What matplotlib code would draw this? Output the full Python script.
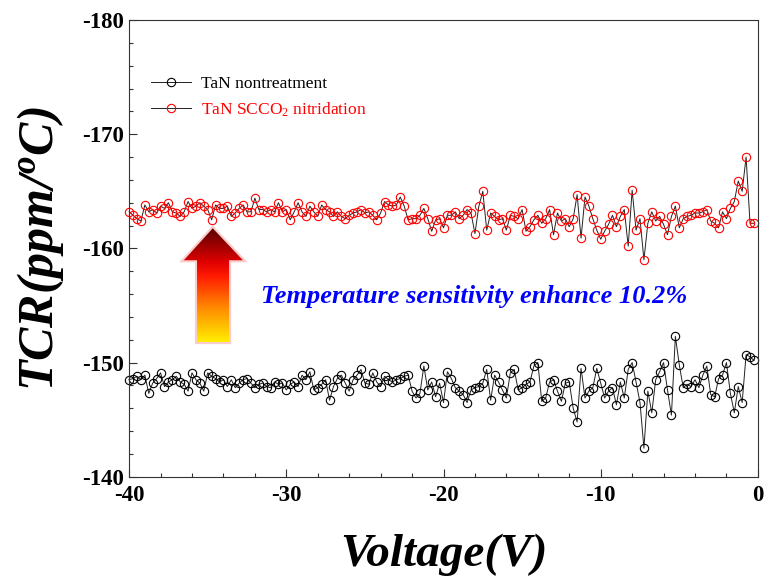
import numpy as np
import matplotlib
matplotlib.use("Agg")
import matplotlib.pyplot as plt
from matplotlib.colors import LinearSegmentedColormap
from matplotlib.patches import Polygon
from matplotlib.ticker import MultipleLocator

# -- fonts: Times-like serif everywhere
plt.rcParams['font.family'] = ['Liberation Serif', 'DejaVu Serif']
plt.rcParams['mathtext.fontset'] = 'custom'
plt.rcParams['mathtext.rm'] = 'Liberation Serif'
plt.rcParams['mathtext.it'] = 'Liberation Serif:italic:bold'
plt.rcParams['mathtext.bf'] = 'Liberation Serif:bold'
plt.rcParams['axes.unicode_minus'] = False

# -- voltage sweep, 0.25 V step from -40 V
voltage = np.linspace(-40, -0.25, 160)  # [V]

# -- TCR [ppm/C], untreated film
tcr_nontreat = [
    -148.5, -148.6, -148.8, -148.5, -148.9, -147.3, -148.2, -148.6, -149.1, -147.9,
    -148.3, -148.5, -148.8, -148.3, -148.1, -147.5, -149.1, -148.5, -148.2, -147.5,
    -149.1, -148.8, -148.6, -148.3, -148.5, -147.9, -148.5, -147.8, -148.2, -148.5,
    -148.6, -148.2, -147.8, -148.1, -148.2, -147.9, -147.8, -148.3, -148.1, -148.2,
    -147.6, -148.1, -148.3, -147.9, -148.9, -148.5, -149.2, -147.6, -147.8, -148.1,
    -148.5, -146.7, -147.9, -148.6, -148.9, -148.2, -147.5, -148.5, -148.9, -149.4,
    -148.2, -148.1, -149.1, -148.3, -147.9, -148.8, -148.5, -148.3, -148.5, -148.6,
    -148.8, -148.9, -147.5, -146.9, -147.3, -149.7, -147.6, -148.3, -147.0, -148.2,
    -146.5, -149.2, -148.6, -147.8, -147.5, -147.2, -146.5, -147.6, -147.8, -147.9,
    -148.2, -149.4, -146.7, -148.9, -148.3, -147.6, -146.9, -149.1, -149.4, -147.6,
    -147.8, -148.1, -148.3, -149.7, -150.0, -146.6, -146.9, -148.3, -148.5, -147.5,
    -146.6, -148.2, -148.3, -146.0, -144.8, -149.5, -146.9, -147.5, -147.8, -149.5,
    -148.2, -146.9, -147.5, -147.8, -146.3, -148.3, -146.9, -149.4, -150.0, -148.3,
    -146.5, -142.5, -147.5, -145.6, -148.5, -149.2, -150.0, -147.6, -145.4, -152.3,
    -149.8, -147.8, -148.1, -147.9, -148.5, -147.8, -148.9, -149.7, -147.2, -147.0,
    -148.6, -148.9, -150.0, -147.3, -145.6, -147.9, -146.5, -150.7, -150.5, -150.2,
]

# -- TCR [ppm/C], SCCO2 nitridation
tcr_scco2 = [
    -163.2, -162.9, -162.6, -162.4, -163.8, -163.2, -163.4, -163.1, -163.7, -163.5,
    -164.0, -163.2, -163.1, -162.8, -163.2, -164.1, -163.5, -163.7, -164.0, -163.7,
    -163.4, -162.5, -163.8, -163.5, -163.5, -163.7, -162.8, -163.1, -163.5, -163.8,
    -163.2, -163.2, -164.4, -163.4, -163.4, -163.2, -163.4, -163.2, -164.0, -163.2,
    -163.4, -162.5, -163.2, -164.0, -163.2, -162.8, -163.7, -163.2, -162.8, -163.8,
    -163.4, -163.2, -162.8, -163.2, -162.8, -162.6, -162.9, -163.1, -163.2, -163.4,
    -163.1, -163.2, -162.9, -162.5, -163.1, -164.1, -163.8, -163.7, -163.8, -164.5,
    -163.7, -162.5, -162.6, -162.6, -162.9, -163.5, -162.6, -161.5, -162.5, -162.6,
    -161.8, -162.9, -162.9, -163.2, -162.6, -162.9, -163.4, -163.1, -161.3, -163.7,
    -165.0, -161.6, -163.1, -162.8, -162.5, -162.6, -161.6, -162.9, -162.8, -162.6,
    -163.4, -161.5, -161.9, -162.5, -162.9, -162.2, -162.6, -163.4, -161.2, -163.1,
    -162.4, -162.6, -161.9, -162.6, -164.7, -160.9, -164.5, -163.7, -162.6, -161.6,
    -160.8, -161.5, -162.1, -162.9, -161.9, -162.8, -163.4, -160.2, -165.1, -161.6,
    -162.6, -159.0, -162.2, -163.2, -162.4, -162.8, -162.1, -161.2, -162.8, -163.7,
    -161.8, -162.6, -162.8, -162.9, -163.1, -163.1, -163.2, -163.4, -162.4, -162.2,
    -161.8, -163.2, -162.6, -163.5, -164.1, -165.9, -165.0, -168.0, -162.2, -162.2,
]

series_labels = ['TaN nontreatment', r'TaN SCCO$_\mathrm{2}$ nitridation']
series_edge = ['black', 'red']
note_text = 'Temperature sensitivity enhance 10.2%'

fig = plt.figure(figsize=(7.64, 5.80), dpi=100)
ax = fig.add_axes([0.169, 0.178, 0.823, 0.7875])

for y, lab, ec in zip([tcr_nontreat, tcr_scco2], series_labels, series_edge):
    ax.plot(voltage, y, color='#222222', lw=0.7, marker='o', ms=6,
            mfc='none', mec=ec, mew=0.8, label=lab, clip_on=False)

ax.set_xlim(-40, 0)
ax.set_ylim(-140, -180)
ax.xaxis.set_major_locator(MultipleLocator(10))
ax.xaxis.set_minor_locator(MultipleLocator(2))
ax.yaxis.set_major_locator(MultipleLocator(10))
ax.yaxis.set_minor_locator(MultipleLocator(2))
ax.tick_params(which='both', direction='in', color='#333333', width=0.8)
ax.tick_params(which='major', length=5.5, labelsize=16.5)
ax.tick_params(axis='x', which='major', pad=6)
ax.tick_params(axis='y', which='major', pad=4)
ax.tick_params(which='minor', length=3.2)
for t in ax.get_xticklabels() + ax.get_yticklabels():
    t.set_fontweight('bold')
for s in ax.spines.values():
    s.set_color('#333333')
    s.set_linewidth(0.8)

ax.set_xlabel('Voltage(V)', fontsize=34, fontweight='bold', style='italic', labelpad=20)
ax.set_ylabel(r'TCR(ppm/$^{o}$C)', fontsize=36, fontweight='bold', style='italic', labelpad=11)

leg = ax.legend(loc='upper left', bbox_to_anchor=(0.035, 0.877), frameon=False,
                fontsize=12.5, handlelength=2.3, handletextpad=0.6,
                labelspacing=0.45, borderpad=0, borderaxespad=0)
for txt, c in zip(leg.get_texts(), series_edge):
    txt.set_color(c)

# -- gradient arrow (axes fraction coords)
arrow_xy = np.array([[0.133, 0.544], [0.087, 0.474], [0.108, 0.474], [0.108, 0.295],
                     [0.159, 0.295], [0.159, 0.474], [0.181, 0.474]])
cmap = LinearSegmentedColormap.from_list(
    'arr', [(0.0, '#5a0000'), (0.3, '#e00000'), (0.42, '#ff1a00'),
            (0.7, '#ff8a00'), (1.0, '#ffee00')])
glow = Polygon(arrow_xy, closed=True, transform=ax.transAxes, fc='none',
               ec='#f9b8b8', lw=3, alpha=0.7, zorder=3)
ax.add_patch(glow)
poly = Polygon(arrow_xy, closed=True, transform=ax.transAxes, fc='none', ec='none')
ax.add_patch(poly)
grad = np.linspace(0, 1, 256).reshape(-1, 1)
im = ax.imshow(grad, cmap=cmap, aspect='auto', extent=(0.087, 0.181, 0.295, 0.544),
               transform=ax.transAxes, origin='upper', zorder=4)
im.set_clip_path(poly)

ax.text(0.209, 0.395, note_text, transform=ax.transAxes, color='#0000ff',
        fontsize=19, fontweight='bold', style='italic', va='center', ha='left')

fig.savefig('out.png', dpi=100)
